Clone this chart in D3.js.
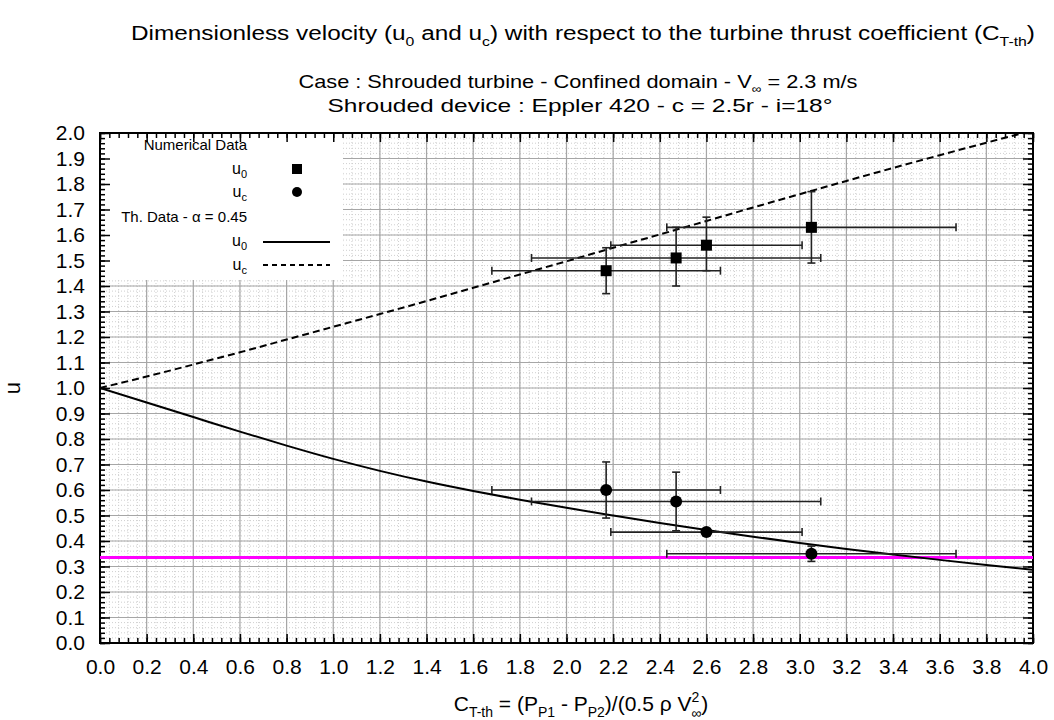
<!DOCTYPE html>
<html>
<head>
<meta charset="utf-8">
<script src="https://cdn.jsdelivr.net/npm/d3@7"></script>
<style>
  html, body { margin: 0; padding: 0; background: #fff; }
  svg { display: block; font-family: "Liberation Sans", Arial, Helvetica, sans-serif; }
</style>
</head>
<body>
<svg id="chart" width="1054" height="720"></svg>
<script>
// ---------- data ----------
const xTickValues = [0.0,0.2,0.4,0.6,0.8,1.0,1.2,1.4,1.6,1.8,2.0,2.2,2.4,2.6,2.8,3.0,3.2,3.4,3.6,3.8,4.0];
const yTickValues = [0.0,0.1,0.2,0.3,0.4,0.5,0.6,0.7,0.8,0.9,1.0,1.1,1.2,1.3,1.4,1.5,1.6,1.7,1.8,1.9,2.0];

// numerical data (thrust coefficient with horizontal error range)
const ctNum  = [2.17, 2.47, 2.60, 3.05];
const ctLow  = [1.68, 1.85, 2.19, 2.43];
const ctHigh = [2.66, 3.09, 3.01, 3.67];
// u0 (squares)
const u0Num  = [1.46, 1.51, 1.56, 1.63];
const u0Low  = [1.37, 1.40, 1.46, 1.49];
const u0High = [1.55, 1.63, 1.67, 1.77];
// uc (circles)
const ucNum  = [0.60, 0.555, 0.435, 0.35];
const ucLow  = [0.49, 0.44, 0.435, 0.32];
const ucHigh = [0.71, 0.67, 0.435, 0.38];

// theoretical data, alpha = 0.45
const ctTh = [0.0,0.2,0.4,0.6,0.8,1.0,1.2,1.4,1.6,1.8,2.0,2.2,2.4,2.6,2.8,3.0,3.2,3.4,3.6,3.8,4.0];
const u0Th = [1.0,0.943,0.886,0.829,0.774,0.722,0.675,0.633,0.596,0.562,0.53,0.50,0.471,0.443,0.417,0.392,0.369,0.347,0.326,0.306,0.287];
const ucTh = [1.0,1.045,1.092,1.14,1.19,1.24,1.29,1.341,1.393,1.445,1.497,1.55,1.602,1.655,1.708,1.76,1.812,1.863,1.913,1.962,2.01];

// magenta reference level
const refLevel = [0.335];

// ---------- layout ----------
const svg = d3.select("#chart");
const L = 100, R = 1033, T = 133, B = 643;
const x = d3.scaleLinear().domain([0, 4]).range([L, R]);
const y = d3.scaleLinear().domain([0, 2]).range([B, T]);

svg.append("rect").attr("width", 1054).attr("height", 720).attr("fill", "#fff");

svg.append("defs").append("clipPath").attr("id", "clip")
  .append("rect").attr("x", L).attr("y", T).attr("width", R - L).attr("height", B - T);

// minor grid (dotted)
const xMinor = d3.range(0, 4.0001, 0.04);
const yMinor = d3.range(0, 2.0001, 0.02);
const grid = svg.append("g");
grid.selectAll("line.xm").data(xMinor).join("line")
  .attr("x1", d => x(d)).attr("x2", d => x(d)).attr("y1", T).attr("y2", B)
  .attr("stroke", "#cfcfcf").attr("stroke-width", 1).attr("stroke-dasharray", "1,2");
grid.selectAll("line.ym").data(yMinor).join("line")
  .attr("y1", d => y(d)).attr("y2", d => y(d)).attr("x1", L).attr("x2", R)
  .attr("stroke", "#cfcfcf").attr("stroke-width", 1).attr("stroke-dasharray", "1,2");
// major grid
grid.selectAll("line.xM").data(xTickValues).join("line")
  .attr("x1", d => x(d)).attr("x2", d => x(d)).attr("y1", T).attr("y2", B)
  .attr("stroke", "#a6a6a6").attr("stroke-width", 1.2);
grid.selectAll("line.yM").data(yTickValues).join("line")
  .attr("y1", d => y(d)).attr("y2", d => y(d)).attr("x1", L).attr("x2", R)
  .attr("stroke", "#a6a6a6").attr("stroke-width", 1.2);

// legend background (hides grid)
const legW = 243, legH = 147;
svg.append("rect").attr("x", L).attr("y", T).attr("width", legW).attr("height", legH).attr("fill", "#fff");

// ---------- axes ----------
const fmt = d3.format(".1f");
function addAxis(axisGen, tx, ty, labels) {
  const g = svg.append("g").attr("transform", `translate(${tx},${ty})`).call(axisGen);
  g.select(".domain").remove();
  g.selectAll(".tick line").attr("stroke", "#000").attr("stroke-width", 1.5);
  if (!labels) g.selectAll(".tick text").remove();
  else g.selectAll(".tick text").attr("font-size", 21).attr("fill", "#000")
        .attr("font-family", "Liberation Sans, Arial, sans-serif");
  return g;
}
// bottom
addAxis(d3.axisBottom(x).tickValues(xTickValues).tickFormat(fmt).tickSizeInner(-9).tickPadding(16), 0, B, true);
addAxis(d3.axisBottom(x).tickValues(xMinor).tickSizeInner(-5).tickFormat(""), 0, B, false);
// top
addAxis(d3.axisTop(x).tickValues(xTickValues).tickSizeInner(-9), 0, T, false);
addAxis(d3.axisTop(x).tickValues(xMinor).tickSizeInner(-5), 0, T, false);
// left
addAxis(d3.axisLeft(y).tickValues(yTickValues).tickFormat(fmt).tickSizeInner(-10).tickPadding(15), L, 0, true);
addAxis(d3.axisLeft(y).tickValues(yMinor).tickSizeInner(-5).tickFormat(""), L, 0, false);
// right
addAxis(d3.axisRight(y).tickValues(yTickValues).tickSizeInner(-10), R, 0, false);
addAxis(d3.axisRight(y).tickValues(yMinor).tickSizeInner(-5), R, 0, false);

// frame
svg.append("rect").attr("x", L).attr("y", T).attr("width", R - L).attr("height", B - T)
  .attr("fill", "none").attr("stroke", "#000").attr("stroke-width", 2);

// ---------- data marks ----------
const plot = svg.append("g").attr("clip-path", "url(#clip)");

// magenta level
plot.selectAll("line.ref").data(refLevel).join("line")
  .attr("x1", L).attr("x2", R).attr("y1", d => y(d)).attr("y2", d => y(d))
  .attr("stroke", "#ff00ff").attr("stroke-width", 3);

const line = d3.line().curve(d3.curveMonotoneX).x(d => x(d[0])).y(d => y(d[1]));
plot.append("path").datum(ctTh.map((c, i) => [c, u0Th[i]])).attr("d", line)
  .attr("fill", "none").attr("stroke", "#000").attr("stroke-width", 2);
plot.append("path").datum(ctTh.map((c, i) => [c, ucTh[i]])).attr("d", line)
  .attr("fill", "none").attr("stroke", "#000").attr("stroke-width", 2).attr("stroke-dasharray", "7,4");

// error bars
function errorBars(vals, lows, highs) {
  const g = plot.append("g").attr("stroke", "#222").attr("stroke-width", 1.6);
  const cap = 4;
  ctNum.forEach((c, i) => {
    const yv = y(vals[i]);
    g.append("line").attr("x1", x(ctLow[i])).attr("x2", x(ctHigh[i])).attr("y1", yv).attr("y2", yv);
    g.append("line").attr("x1", x(ctLow[i])).attr("x2", x(ctLow[i])).attr("y1", yv - cap).attr("y2", yv + cap);
    g.append("line").attr("x1", x(ctHigh[i])).attr("x2", x(ctHigh[i])).attr("y1", yv - cap).attr("y2", yv + cap);
    if (highs[i] - lows[i] > 0.001) {
      g.append("line").attr("x1", x(c)).attr("x2", x(c)).attr("y1", y(lows[i])).attr("y2", y(highs[i]));
      g.append("line").attr("x1", x(c) - cap).attr("x2", x(c) + cap).attr("y1", y(lows[i])).attr("y2", y(lows[i]));
      g.append("line").attr("x1", x(c) - cap).attr("x2", x(c) + cap).attr("y1", y(highs[i])).attr("y2", y(highs[i]));
    }
  });
}
errorBars(u0Num, u0Low, u0High);
errorBars(ucNum, ucLow, ucHigh);

plot.selectAll("rect.sq").data(ctNum.map((c, i) => [c, u0Num[i]])).join("rect")
  .attr("x", d => x(d[0]) - 5.5).attr("y", d => y(d[1]) - 5.5).attr("width", 11).attr("height", 11).attr("fill", "#000");
plot.selectAll("circle.ci").data(ctNum.map((c, i) => [c, ucNum[i]])).join("circle")
  .attr("cx", d => x(d[0])).attr("cy", d => y(d[1])).attr("r", 6).attr("fill", "#000");

// ---------- legend ----------
const lg = svg.append("g").attr("font-size", 15).attr("fill", "#000");
const lx = 247, sx = 297;
lg.append("text").attr("x", lx).attr("y", 150).attr("text-anchor", "end").text("Numerical Data");
function subLabel(yy, base, sub) {
  const t = lg.append("text").attr("x", lx).attr("y", yy).attr("text-anchor", "end");
  t.append("tspan").attr("font-size", 16).text(base);
  t.append("tspan").attr("font-size", 11).attr("dy", 4).text(sub);
  return t;
}
subLabel(174, "u", "0");
lg.append("rect").attr("x", sx - 5).attr("y", 164).attr("width", 10).attr("height", 10).attr("fill", "#000");
subLabel(197, "u", "c");
lg.append("circle").attr("cx", sx).attr("cy", 192).attr("r", 5).attr("fill", "#000");
lg.append("text").attr("x", lx).attr("y", 222).attr("text-anchor", "end").text("Th. Data - \u03b1 = 0.45");
subLabel(246, "u", "0");
lg.append("line").attr("x1", 263).attr("x2", 330).attr("y1", 242).attr("y2", 242).attr("stroke", "#000").attr("stroke-width", 1.8);
subLabel(270, "u", "c");
lg.append("line").attr("x1", 263).attr("x2", 330).attr("y1", 265).attr("y2", 265).attr("stroke", "#000").attr("stroke-width", 1.8).attr("stroke-dasharray", "5,4");

// ---------- titles ----------
const tt = svg.append("g").attr("fill", "#000").attr("text-anchor", "middle");
const t1 = tt.append("text").attr("x", 583).attr("y", 40).attr("font-size", 20)
  .attr("textLength", 904).attr("lengthAdjust", "spacingAndGlyphs");
t1.append("tspan").text("Dimensionless velocity (u");
t1.append("tspan").attr("font-size", 13).attr("dy", 6).text("0");
t1.append("tspan").attr("dy", -6).text(" and u");
t1.append("tspan").attr("font-size", 13).attr("dy", 6).text("c");
t1.append("tspan").attr("dy", -6).text(") with respect to the turbine thrust coefficient (C");
t1.append("tspan").attr("font-size", 13).attr("dy", 6).text("T-th");
t1.append("tspan").attr("dy", -6).text(")");

const t2 = tt.append("text").attr("x", 578).attr("y", 88).attr("font-size", 19)
  .attr("textLength", 559).attr("lengthAdjust", "spacingAndGlyphs");
t2.append("tspan").text("Case : Shrouded turbine - Confined domain - V");
t2.append("tspan").attr("font-size", 12).attr("dy", 5).text("\u221e");
t2.append("tspan").attr("dy", -5).text(" = 2.3 m/s");
tt.append("text").attr("x", 580).attr("y", 112).attr("font-size", 19)
  .attr("textLength", 505).attr("lengthAdjust", "spacingAndGlyphs")
  .text("Shrouded device : Eppler 420 - c = 2.5r - i=18\u00b0");

// x axis title
const xt = tt.append("text").attr("x", 581).attr("y", 711).attr("font-size", 21);
xt.append("tspan").text("C");
xt.append("tspan").attr("font-size", 14).attr("dy", 6).text("T-th");
xt.append("tspan").attr("dy", -6).text(" = (P");
xt.append("tspan").attr("font-size", 14).attr("dy", 6).text("P1");
xt.append("tspan").attr("dy", -6).text(" - P");
xt.append("tspan").attr("font-size", 14).attr("dy", 6).text("P2");
xt.append("tspan").attr("dy", -6).text(")/(0.5 \u03c1 V");
xt.append("tspan").attr("font-size", 14).attr("dy", -9).text("2");
xt.append("tspan").attr("font-size", 14).attr("dx", -8).attr("dy", 16).text("\u221e");
xt.append("tspan").attr("dy", -7).text(")");

// y axis title
svg.append("text").attr("transform", `translate(20,${(T + B) / 2}) rotate(-90)`)
  .attr("text-anchor", "middle").attr("font-size", 22).attr("fill", "#000").text("u");
</script>
</body>
</html>
